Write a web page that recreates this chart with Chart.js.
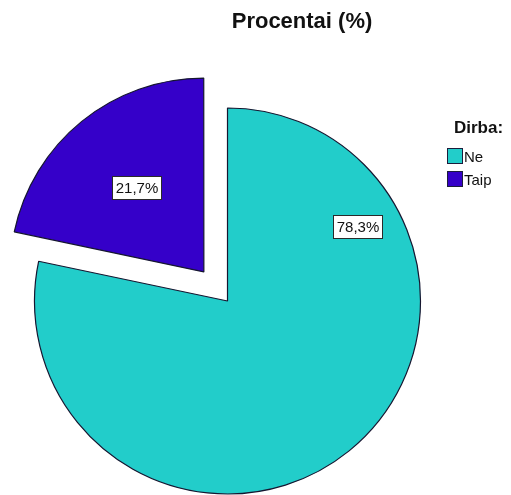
<!DOCTYPE html>
<html>
<head>
<meta charset="utf-8">
<script src="https://cdn.jsdelivr.net/npm/chart.js@4/dist/chart.umd.min.js"></script>
<style>
  html, body { margin: 0; padding: 0; background: #ffffff; }
  #wrap { width: 511px; height: 495px; position: relative; }
</style>
</head>
<body>
<div id="wrap"><canvas id="c" width="511" height="495"></canvas></div>
<script>
const chartTitle = 'Procentai (%)';
const legendTitle = 'Dirba:';
const categories = ['Ne', 'Taip'];
const percents = [78.3, 21.7];

const sliceColors = ['#22cdca', '#3500c9'];
const sliceOffsets = [0, 150];
// label spot per slice: [fraction of sweep from start, fraction of radius]
const labelSpots = [[0.213, 0.775], [0.51, 0.56]];

const FONT = '"Liberation Sans", Arial, sans-serif';

const fmt = v => v.toFixed(1).replace('.', ',') + '%';

const decorations = {
  id: 'decorations',
  afterDatasetsDraw(chart) {
    const ctx = chart.ctx;
    const meta = chart.getDatasetMeta(0);
    ctx.save();
    ctx.font = '15px ' + FONT;
    ctx.textAlign = 'center';
    ctx.textBaseline = 'middle';
    meta.data.forEach((arc, i) => {
      const p = arc.getProps(['x', 'y', 'startAngle', 'endAngle', 'outerRadius']);
      const half = (p.startAngle + p.endAngle) / 2;
      const shift = (arc.options.offset || 0) / 4;
      const cx = p.x + Math.cos(half) * shift;
      const cy = p.y + Math.sin(half) * shift;
      const [k, f] = labelSpots[i];
      const a = p.startAngle + k * (p.endAngle - p.startAngle);
      const lx = cx + Math.cos(a) * p.outerRadius * f;
      const ly = cy + Math.sin(a) * p.outerRadius * f;
      const txt = fmt(percents[i]);
      const w = Math.round(ctx.measureText(txt).width) + 6;
      const h = 23;
      const bx = Math.round(lx - w / 2) + 0.5;
      const by = Math.round(ly - h / 2) + 0.5;
      ctx.fillStyle = '#ffffff';
      ctx.fillRect(bx, by, w, h);
      ctx.strokeStyle = '#2a2a2a';
      ctx.lineWidth = 1;
      ctx.strokeRect(bx, by, w, h);
      ctx.fillStyle = '#111111';
      ctx.fillText(txt, bx + w / 2, by + h / 2 + 1);
    });
    ctx.restore();
  },
  afterDraw(chart) {
    const ctx = chart.ctx;
    ctx.save();
    ctx.fillStyle = '#111111';
    ctx.textBaseline = 'alphabetic';
    ctx.textAlign = 'center';
    ctx.font = 'bold 22px ' + FONT;
    ctx.fillText(chartTitle, 302, 28);

    ctx.textAlign = 'left';
    ctx.font = 'bold 17px ' + FONT;
    ctx.fillText(legendTitle, 454, 133);

    ctx.font = '15px ' + FONT;
    categories.forEach((name, i) => {
      const y = 148 + i * 23;
      ctx.fillStyle = sliceColors[i];
      ctx.fillRect(447.5, y + 0.5, 15, 15);
      ctx.strokeStyle = '#1c1c3c';
      ctx.lineWidth = 1;
      ctx.strokeRect(447.5, y + 0.5, 15, 15);
      ctx.fillStyle = '#111111';
      ctx.fillText(name, 464, y + 14);
    });
    ctx.restore();
  }
};

new Chart(document.getElementById('c'), {
  type: 'pie',
  data: {
    labels: categories,
    datasets: [{
      data: percents,
      backgroundColor: sliceColors,
      borderColor: '#161630',
      borderWidth: 1.2,
      offset: sliceOffsets,
      hoverOffset: 0,
      clip: false
    }]
  },
  options: {
    responsive: false,
    devicePixelRatio: 1,
    animation: false,
    events: [],
    radius: 193,
    layout: { padding: { left: 0, right: 56, top: 107, bottom: 0 } },
    plugins: {
      legend: { display: false },
      title: { display: false },
      tooltip: { enabled: false }
    }
  },
  plugins: [decorations]
});
</script>
</body>
</html>
